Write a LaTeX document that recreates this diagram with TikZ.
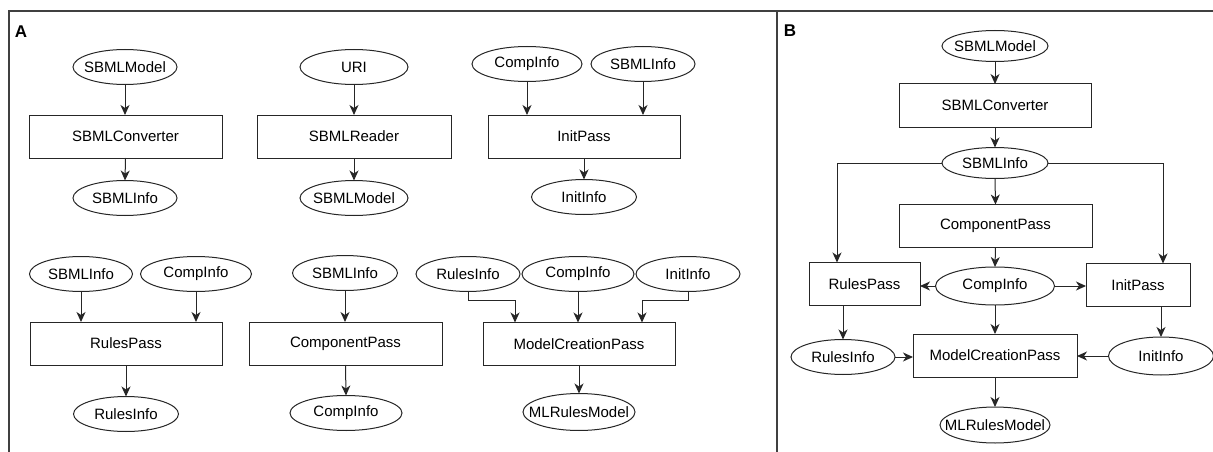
\documentclass[tikz,border=0pt]{standalone}
\usepackage{fontspec}
\setmainfont{Liberation Sans}
\usetikzlibrary{shapes.geometric,arrows.meta}
\newcommand{\et}[1]{\makebox[0pt][c]{#1}}
\tikzset{
  every node/.style={font=\fontsize{15}{18}\selectfont, text=black},
  ell/.style={ellipse, draw=black!85, line width=1pt, inner sep=0pt, outer sep=0pt, minimum height=35pt},
  box/.style={rectangle, draw=black!85, line width=1pt, inner sep=0pt, outer sep=0pt, minimum height=43pt},
  arr/.style={draw=black!85, line width=1pt, -{Stealth[length=10pt,width=9pt,inset=3pt]}},
  frm/.style={draw=black!75, line width=1.2pt},
  lbl/.style={font=\fontsize{17}{20}\selectfont\bfseries}
}
\begin{document}
\begin{tikzpicture}[x=1pt,y=-1pt]
\useasboundingbox (0,0) rectangle (1213,452);
% frame
\draw[frm] (9,452) -- (9,11) -- (1213,11);
\draw[frm] (777,11) -- (777,452);
\node[lbl] (la) at (21,32) {A};
\node[lbl] (lb) at (790,31) {B};

% ---------- Panel A, row 1 ----------
\node[ell, minimum width=104pt] (a1m) at (125,67) {\et{SBMLModel}};
\node[box, minimum width=193pt] (a1c) at (125.5,136.5) {SBMLConverter};
\node[ell, minimum width=104pt] (a1i) at (125,198) {\et{SBMLInfo}};
\draw[arr] (a1m.south) -- (a1m.south |- a1c.north);
\draw[arr] (a1c.south) -- (a1i.north);

\node[ell, minimum width=108pt] (a2u) at (354,67) {\et{URI}};
\node[box, minimum width=194pt] (a2r) at (354,136.5) {SBMLReader};
\node[ell, minimum width=108pt] (a2m) at (354,198) {\et{SBMLModel}};
\draw[arr] (a2u.south) -- (a2u.south |- a2r.north);
\draw[arr] (a2r.south) -- (a2m.north);

\node[ell, minimum width=110pt] (a3c) at (527,64) {\et{CompInfo}};
\node[ell, minimum width=104pt] (a3s) at (643,64) {\et{SBMLInfo}};
\node[box, minimum width=192pt] (a3p) at (584,136.5) {InitPass};
\node[ell, minimum width=105pt] (a3i) at (584,197) {\et{InitInfo}};
\draw[arr] (a3c.south) -- (a3c.south |- a3p.north);
\draw[arr] (a3s.south) -- (a3s.south |- a3p.north);
\draw[arr] (a3p.south) -- (a3i.north);

% ---------- Panel A, row 2 ----------
\node[ell, minimum width=103pt] (b1s) at (81,274) {\et{SBMLInfo}};
\node[ell, minimum width=111pt] (b1c) at (196,274) {\et{CompInfo}};
\node[box, minimum width=192pt] (b1p) at (126,343.5) {RulesPass};
\node[ell, minimum width=105pt] (b1r) at (126,414) {\et{RulesInfo}};
\draw[arr] (b1s.south) -- (b1s.south |- b1p.north);
\draw[arr] (b1c.south) -- (b1c.south |- b1p.north);
\draw[arr] (b1p.south) -- (b1r.north);

\node[ell, minimum width=105pt] (b2s) at (345,273) {\et{SBMLInfo}};
\node[box, minimum width=193pt] (b2p) at (345.5,343.5) {ComponentPass};
\node[ell, minimum width=112pt] (b2c) at (346,413) {\et{CompInfo}};
\draw[arr] (b2s.south) -- (b2s.south |- b2p.north);
\draw[arr] (b2p.south) -- (b2c.north);

\node[ell, minimum width=104pt] (b3r) at (468,274) {\et{RulesInfo}};
\node[ell, minimum width=112pt] (b3c) at (578,274) {\et{CompInfo}};
\node[ell, minimum width=104pt] (b3i) at (688,274) {\et{InitInfo}};
\node[box, minimum width=192pt] (b3p) at (579,344) {ModelCreationPass};
\node[ell, minimum width=112pt, minimum height=37pt] (b3m) at (579,412) {\et{MLRulesModel}};
\coordinate (j1) at (515,300);
\coordinate (j2) at (642,300);
\draw[arr] (b3r.south) |- (j1) -- (j1 |- b3p.north);
\draw[arr] (b3c.south) -- (b3c.south |- b3p.north);
\draw[arr] (b3i.south) |- (j2) -- (j2 |- b3p.north);
\draw[arr] (b3p.south) -- (b3m.north);

% ---------- Panel B ----------
\node[ell, minimum width=106pt, minimum height=31pt] (cm) at (995,46) {\et{SBMLModel}};
\node[box, minimum width=192pt] (cc) at (995,105.5) {SBMLConverter};
\node[ell, minimum width=106pt, minimum height=31pt] (cs) at (995,163) {\et{SBMLInfo}};
\node[box, minimum width=193pt] (cp) at (995.5,226) {ComponentPass};
\node[ell, minimum width=119pt, minimum height=38pt] (cci) at (995,286) {\et{CompInfo}};
\node[box, minimum width=111pt] (crp) at (864.5,284) {RulesPass};
\node[box, minimum width=104pt] (cip) at (1138,285) {InitPass};
\node[box, minimum width=164pt] (cmc) at (995,355.5) {ModelCreationPass};
\node[ell, minimum width=104pt] (cri) at (843,357) {\et{RulesInfo}};
\node[ell, minimum width=105pt, minimum height=38pt] (cii) at (1161,356) {\et{InitInfo}};
\node[ell, minimum width=110pt, minimum height=36pt] (cml) at (995,425) {\et{MLRulesModel}};
\coordinate (kl) at (837,163);
\coordinate (kr) at (1163,163);
\draw[arr] (cm.south) -- (cc.north);
\draw[arr] (cc.south) -- (cs.north);
\draw[arr] (cs.south) -- (cp.north);
\draw[arr] (cs.west) -- (kl) -- (kl |- crp.north);
\draw[arr] (cs.east) -- (kr) -- (kr |- cip.north);
\draw[arr] (cp.south) -- (cci.north);
\draw[arr] (cci.west) -- (cci.west -| crp.east);
\draw[arr] (cci.east) -- (cci.east -| cip.west);
\draw[arr] (cci.south) -- (cmc.north);
\draw[arr] (crp.south -| cri.north) -- (cri.north);
\draw[arr] (cip.south -| cii.north) -- (cii.north);
\draw[arr] (cri.east) -- (cri.east -| cmc.west);
\draw[arr] (cii.west) -- (cii.west -| cmc.east);
\draw[arr] (cmc.south) -- (cml.north);
\end{tikzpicture}
\end{document}
